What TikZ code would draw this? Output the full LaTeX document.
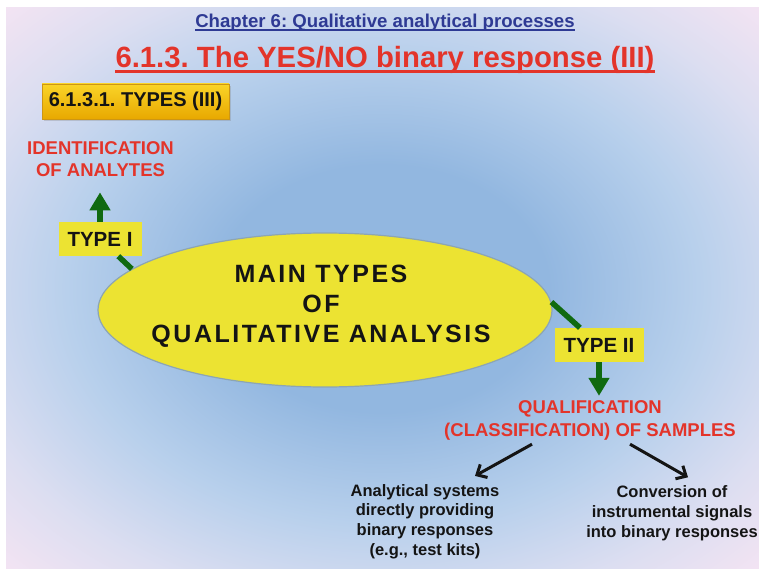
\documentclass[tikz,border=0pt]{standalone}
\usepackage{fontspec}
\setmainfont{Liberation Sans}
\newfontfamily\spacedfont{Liberation Sans}[LetterSpace=10]
\usetikzlibrary{arrows.meta,positioning,calc,shapes.geometric,shadows}
\definecolor{chapblue}{RGB}{46,58,148}
\definecolor{titlered}{RGB}{227,52,42}
\definecolor{ovalyellow}{RGB}{236,227,50}
\definecolor{ovaledge}{RGB}{140,165,180}
\definecolor{typegreen}{RGB}{16,106,16}
\definecolor{goldtop}{RGB}{250,212,40}
\definecolor{goldmid}{RGB}{253,224,50}
\definecolor{goldbot}{RGB}{232,168,0}
\definecolor{goldedge}{RGB}{205,150,20}
\definecolor{inkblack}{RGB}{20,20,20}
\definecolor{bgcentre}{RGB}{146,183,224}
\definecolor{bgpale}{RGB}{184,208,236}
\definecolor{bgmauve}{RGB}{220,222,241}
\definecolor{bgpink}{RGB}{245,228,243}
\pgfdeclareradialshading{slidebg}{\pgfpoint{0bp}{0bp}}{color(0bp)=(bgcentre); color(11bp)=(bgcentre); color(21bp)=(bgpale); color(29bp)=(bgmauve); color(36bp)=(bgpink); color(50bp)=(bgpink)}
\frenchspacing

\begin{document}
\begin{tikzpicture}[
  x=1pt,y=-1pt,
  chaptitle/.style={anchor=base,inner sep=0pt,text=chapblue,
              font=\fontsize{18.6}{22}\selectfont\bfseries},
  sectitle/.style={anchor=base,inner sep=0pt,text=titlered,
              font=\fontsize{29.3}{35}\selectfont\bfseries},
  goldbox/.style={rectangle,draw=goldedge,line width=0.6pt,top color=goldtop,
              middle color=goldmid,bottom color=goldbot,inner sep=0pt,
              minimum width=187pt,minimum height=35pt,text=inkblack,
              drop shadow={shadow xshift=1.5pt,shadow yshift=-2pt,opacity=0.3},
              font=\fontsize{20}{24}\selectfont\bfseries},
  redlabel/.style={align=center,inner sep=0pt,text=titlered,
              font=\fontsize{18.5}{22.2}\selectfont\bfseries},
  blacklabel/.style={align=center,inner sep=0pt,text=inkblack,
              font=\fontsize{16.5}{19.8}\selectfont\bfseries},
  ovalnode/.style={ellipse,draw=ovaledge,line width=1.2pt,fill=ovalyellow,
              minimum width=454pt,minimum height=154pt,inner sep=0pt},
  ovaltext/.style={align=center,inner sep=0pt,text=inkblack,
              font=\fontsize{25}{30}\selectfont\spacedfont\bfseries},
  typetag/.style={rectangle,fill=ovalyellow,inner sep=0pt,minimum width=83pt,
              minimum height=34pt,text=inkblack,
              font=\fontsize{20.5}{24}\selectfont\bfseries},
  greenline/.style={draw=typegreen,line width=5.5pt},
  greenarrow/.style={-{Triangle[length=18pt,width=20pt]},draw=typegreen,
              fill=typegreen,line width=5.5pt},
  blackarrow/.style={-{Straight Barb[length=8pt,width=15pt]},draw=inkblack,
              line width=3pt}
]
\useasboundingbox (0,0) rectangle (759,569);
\shade[shading=slidebg] (6,8) rectangle (759,569);

% headings
\node[chaptitle] (chap) at (385,28) {Chapter 6: Qualitative analytical processes};
\draw[chapblue,line width=1.7pt] ([yshift=-2.2pt]chap.base west) -- ([yshift=-2.2pt]chap.base east);
\node[sectitle] (sect) at (385,68) {6.1.3. The YES/NO binary response (III)};
\draw[titlered,line width=3pt] ([yshift=-4pt]sect.base west) -- ([yshift=-4pt]sect.base east);
\node[goldbox] (types) at (135.5,101.5) {6.1.3.1. TYPES (III)};

% central oval
\node[ovalnode] (main) at (325,310) {};
\node[ovaltext] (maintitle) at (321,306) {MAIN TYPES\\OF\\QUALITATIVE ANALYSIS};

\node[redlabel] (ident) at (100.5,159.5) {IDENTIFICATION\\OF ANALYTES};
\node[typetag] (typeone) at (100,239) {TYPE I};
\node[typetag,minimum width=89pt] (typetwo) at (599,345) {TYPE II};
\node[redlabel] (qual) at (590,420.5) {QUALIFICATION\\(CLASSIFICATION) OF SAMPLES};

\node[blacklabel] (direct) at (425,521.5) {Analytical systems\\directly providing\\binary responses\\(e.g., test kits)};
\node[blacklabel] (convert) at (672,513) {Conversion of\\instrumental signals\\into binary responses};

% connectors
\draw[greenline] (typeone) -- (main.168);
\draw[greenarrow,shorten >=15pt] (typeone.north) -- (typeone.north |- ident.south);
\draw[greenline] (typetwo) -- (main.2);
\draw[greenarrow,shorten >=5pt] (typetwo.south) -- (typetwo.south |- qual.north);
\draw[blackarrow] ([xshift=-58pt,yshift=-4pt]qual.south) -- ([xshift=50pt,yshift=8pt]direct.north);
\draw[blackarrow] ([xshift=40pt,yshift=-4pt]qual.south) -- ([xshift=16pt,yshift=8pt]convert.north);
\end{tikzpicture}
\end{document}
